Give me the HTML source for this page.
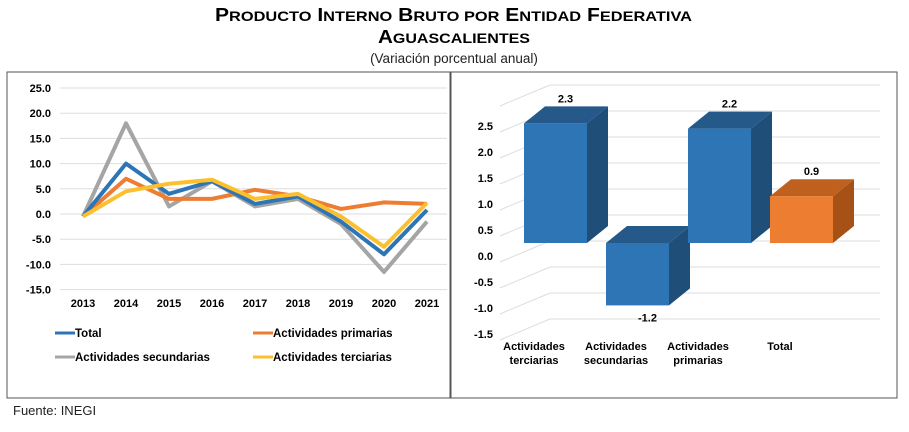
<!DOCTYPE html>
<html><head><meta charset="utf-8"><style>
body{margin:0;background:#fff;width:909px;height:427px;overflow:hidden;font-family:"Liberation Sans",sans-serif}
svg text{font-family:"Liberation Sans",sans-serif}
</style></head><body>
<svg id="s" width="909" height="427">
<text x="215" y="21" textLength="477" lengthAdjust="spacingAndGlyphs" font-weight="bold" font-size="18">P<tspan font-size="14">RODUCTO</tspan> I<tspan font-size="14">NTERNO</tspan> B<tspan font-size="14">RUTO POR</tspan> E<tspan font-size="14">NTIDAD</tspan> F<tspan font-size="14">EDERATIVA</tspan></text>
<text x="378" y="43" textLength="152" lengthAdjust="spacingAndGlyphs" font-weight="bold" font-size="18">A<tspan font-size="14">GUASCALIENTES</tspan></text>
<text x="454" y="63" text-anchor="middle" font-size="13.5" fill="#222">(Variación porcentual anual)</text>
<rect x="7" y="72" width="443" height="326" fill="#fff" stroke="#555" stroke-width="1"/>
<rect x="451" y="72" width="446" height="326" fill="#fff" stroke="#555" stroke-width="1"/>
<text x="13" y="415" font-size="13" fill="#222">Fuente: INEGI</text>
<g id="L"></g><g id="R"></g>
</svg>
<script>
const years=["2013","2014","2015","2016","2017","2018","2019","2020","2021"];
const yTicks=[25,20,15,10,5,0,-5,-10,-15];
const totalVals=[-0.5,10,4,6.5,2,3.5,-1.5,-8,0.8];
const primVals=[-0.5,7,3,3,4.8,3.5,1,2.3,2];
const secVals=[-0.5,18,1.5,6.5,1.5,3,-2,-11.5,-1.5];
const terVals=[-0.5,4.5,6,6.8,3,4,-0.5,-6.5,2.2];
const barCats=[["Actividades","terciarias"],["Actividades","secundarias"],["Actividades","primarias"],["Total"]];
const barVals=[2.3,-1.2,2.2,0.9];
const barTicks=[2.5,2.0,1.5,1.0,0.5,0.0,-0.5,-1.0,-1.5];
const NS="http://www.w3.org/2000/svg";
function mk(p,t,a){const e=document.createElementNS(NS,t);for(const k in a)e.setAttribute(k,a[k]);p.appendChild(e);return e;}
const L=document.getElementById('L');
const ly=v=>214-v*5.04, lx=i=>83+i*43;
yTicks.forEach(t=>{
 const g=mk(L,'line',{x1:60,x2:447,y1:ly(t),y2:ly(t),stroke:'#ddd'});
 
 const tx=mk(L,'text',{x:51,y:ly(t)+4,'text-anchor':'end','font-size':11,'font-weight':'bold'});tx.textContent=t.toFixed(1);
 
});
years.forEach((y,i)=>{const tx=mk(L,'text',{x:lx(i),y:307,'text-anchor':'middle','font-size':11,'font-weight':'bold'});tx.textContent=y;
 });
const series=[[secVals,'#a5a5a5','line-secundarias'],[primVals,'#ed7d31','line-primarias'],[totalVals,'#2e75b6','line-total'],[terVals,'#fcc02e','line-terciarias']];
series.forEach(([v,c,n])=>{const p=mk(L,'polyline',{points:v.map((d,i)=>lx(i)+','+ly(d)).join(' '),fill:'none',stroke:c,'stroke-width':4,'stroke-linejoin':'round'});
 });
const leg=[[55,333,'#2e75b6','Total'],[253,333,'#ed7d31','Actividades primarias'],[55,357,'#a5a5a5','Actividades secundarias'],[253,357,'#fcc02e','Actividades terciarias']];
leg.forEach(([x,y,c,t])=>{const g=mk(L,'g',{});
 mk(g,'line',{x1:x,x2:x+20,y1:y,y2:y,stroke:c,'stroke-width':3});
 const tx=mk(g,'text',{x:x+20,y:y+4,'font-size':11.5,'font-weight':'bold'});tx.textContent=t;});
// right chart
const R=document.getElementById('R');
const ry=v=>243-v*52, by=v=>241-v*52, lab=v=>256-v*52;
[3.0,...barTicks].forEach(t=>{
 const g=mk(R,'line',{x1:550,x2:880,y1:by(t),y2:by(t),stroke:'#ddd'});
 
 const d=mk(R,'line',{x1:500,y1:lab(t)+6,x2:550,y2:by(t),stroke:'#ddd'});
 
});
barTicks.forEach(t=>{const tx=mk(R,'text',{x:493,y:lab(t)+4,'text-anchor':'end','font-size':11,'font-weight':'bold'});tx.textContent=t.toFixed(1);
 });
const dx=21,dy=17,w=63;
barVals.forEach((v,i)=>{
 const x=524+i*82, top=Math.min(ry(v),ry(0)), bot=Math.max(ry(v),ry(0));
 const tot=i===3, cf=tot?'#ed7d31':'#2e75b6', cs=tot?'#a65216':'#1f4e79', ct=tot?'#c0601f':'#24598a';
 const g=mk(R,'g',{});
 mk(g,'polygon',{points:`${x+w},${top} ${x+w+dx},${top-dy} ${x+w+dx},${bot-dy} ${x+w},${bot}`,fill:cs});
 mk(g,'polygon',{points:`${x},${top} ${x+dx},${top-dy} ${x+w+dx},${top-dy} ${x+w},${top}`,fill:ct});
 mk(g,'rect',{x:x,y:top,width:w,height:bot-top,fill:cf});
 const lt=mk(R,'text',{x:x+w/2+10,y:v>=0?top-dy-4:bot+16,'text-anchor':'middle','font-size':11,'font-weight':'bold'});lt.textContent=v.toFixed(1);
 
 barCats[i].forEach((s,j)=>{const tx=mk(R,'text',{x:x+10,y:350+j*14,'text-anchor':'middle','font-size':11,'font-weight':'bold'});tx.textContent=s;
  });
});
</script>
</body></html>
